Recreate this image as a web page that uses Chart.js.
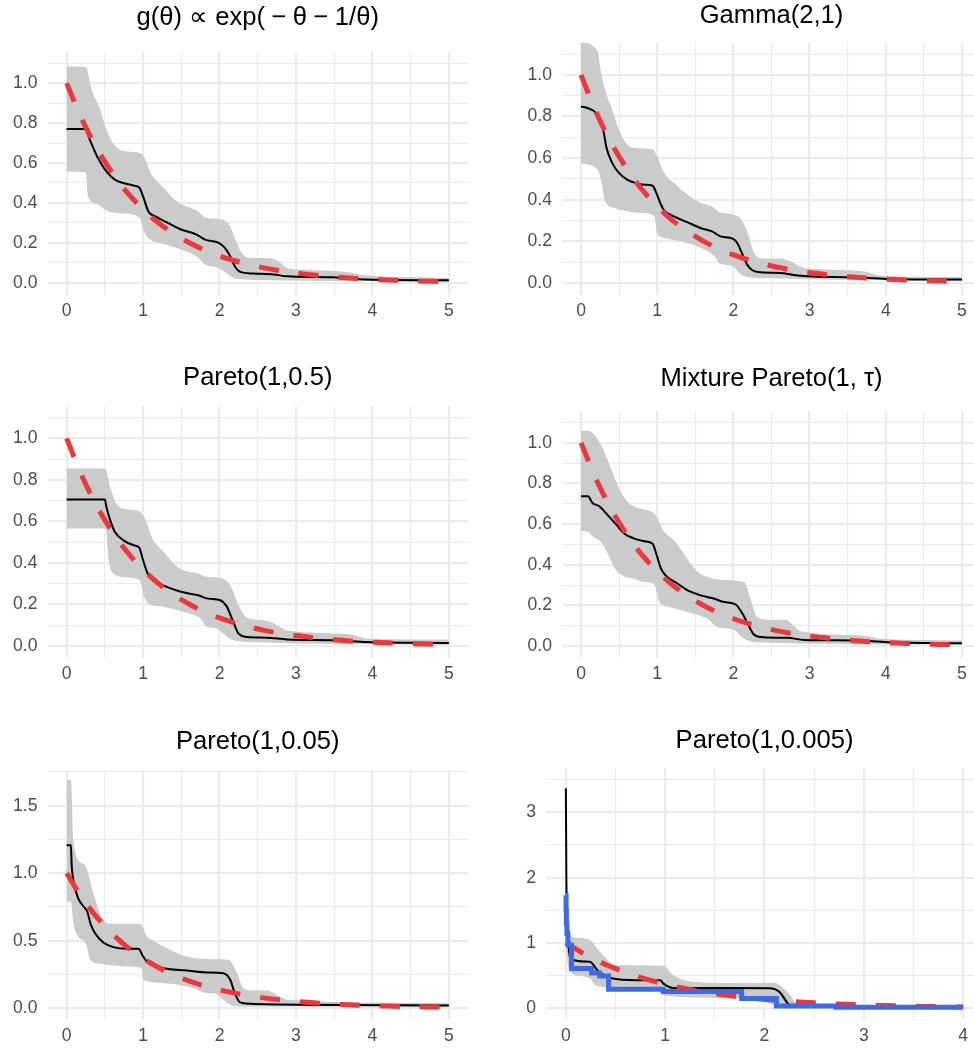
<!DOCTYPE html>
<html>
<head>
<meta charset="utf-8">
<title>Estimated curves, six priors</title>
<script src="https://cdn.jsdelivr.net/npm/chart.js@4.4.1/dist/chart.umd.min.js"></script>
<style>
    html, body { margin: 0; padding: 0; background: #fff; overflow: hidden; }
    #wrap { position: relative; width: 974px; height: 1048px; overflow: hidden; }
    #wrap canvas { position: absolute; }
</style>
</head>
<body>
<div id="wrap"></div>
<script>

// ---- data: [theta, value] pairs ----

// red dashed reference curve (same in every panel)
const trueCurve = [[0,1],[0.2,0.819],[0.4,0.670],[0.6,0.549],[0.8,0.449],[1,0.368],[1.2,0.301],[1.4,0.247],
    [1.6,0.202],[1.8,0.165],[2,0.135],[2.2,0.111],[2.4,0.091],[2.6,0.074],[2.8,0.061],[3,0.050],[3.2,0.041],
    [3.4,0.033],[3.6,0.027],[3.8,0.022],[4,0.018],[4.2,0.015],[4.4,0.012],[4.6,0.010],[4.8,0.008],[5,0.007]];

// g(theta) ~ exp(-theta - 1/theta)
const p1Mean = [[0,0.77],[0.24,0.77],[0.3,0.72],[0.41,0.625],[0.52,0.558],[0.63,0.517],[0.74,0.5],[0.87,0.488],
    [0.95,0.478],[1.0,0.433],[1.07,0.358],[1.16,0.333],[1.31,0.303],[1.48,0.27],[1.7,0.242],[1.81,0.217],[1.99,0.2],
    [2.07,0.175],[2.14,0.133],[2.2,0.083],[2.27,0.055],[2.44,0.047],[2.71,0.042],[2.88,0.033],[3.49,0.028],[3.93,0.017],[5,0.013]];
const p1Upper = [[0,1.083],[0.25,1.08],[0.33,0.967],[0.44,0.867],[0.52,0.767],[0.63,0.688],[0.79,0.658],[0.96,0.65],
    [1.03,0.617],[1.11,0.545],[1.27,0.475],[1.44,0.408],[1.7,0.362],[1.83,0.325],[2.03,0.317],[2.14,0.283],[2.2,0.225],
    [2.29,0.15],[2.44,0.125],[2.62,0.125],[2.75,0.113],[2.88,0.075],[3.05,0.067],[3.67,0.055],[3.93,0.037],[5,0.025]];
const p1Lower = [[0,0.558],[0.25,0.553],[0.28,0.433],[0.39,0.397],[0.52,0.363],[0.74,0.347],[0.96,0.325],[1.0,0.267],
    [1.07,0.225],[1.22,0.2],[1.44,0.175],[1.7,0.133],[1.81,0.092],[1.96,0.078],[2.09,0.05],[2.18,0.025],[2.36,0.017],
    [2.84,0.012],[5,0.005]];

// Gamma(2,1)
const p2Mean = [[0,0.848],[0.09,0.84],[0.2,0.816],[0.26,0.768],[0.3,0.72],[0.33,0.656],[0.41,0.576],[0.5,0.528],
    [0.61,0.496],[0.72,0.48],[0.83,0.472],[0.94,0.467],[0.98,0.44],[1.05,0.376],[1.09,0.349],[1.22,0.32],[1.4,0.291],
    [1.57,0.264],[1.72,0.248],[1.83,0.224],[1.99,0.213],[2.05,0.192],[2.12,0.136],[2.18,0.088],[2.25,0.061],[2.36,0.051],
    [2.62,0.048],[2.79,0.038],[2.97,0.032],[3.58,0.027],[4.02,0.019],[5,0.016]];
const p2Upper = [[0,1.16],[0.22,1.112],[0.26,1.016],[0.33,0.912],[0.41,0.832],[0.5,0.736],[0.61,0.664],[0.74,0.648],
    [0.94,0.643],[1.0,0.608],[1.09,0.528],[1.22,0.48],[1.4,0.424],[1.57,0.384],[1.72,0.368],[1.83,0.339],[2.01,0.328],
    [2.12,0.296],[2.21,0.216],[2.27,0.144],[2.4,0.118],[2.62,0.118],[2.75,0.104],[2.88,0.077],[3.06,0.067],[3.71,0.056],
    [3.93,0.035],[5,0.029]];
const p2Lower = [[0,0.576],[0.22,0.544],[0.27,0.48],[0.31,0.4],[0.44,0.36],[0.61,0.344],[0.79,0.336],[0.96,0.323],
    [1.0,0.24],[1.09,0.216],[1.31,0.2],[1.57,0.168],[1.75,0.128],[1.81,0.096],[1.99,0.08],[2.1,0.04],[2.18,0.029],
    [2.49,0.022],[5,0.008]];

// Pareto(1,0.5)
const p3Mean = [[0,0.706],[0.5,0.706],[0.52,0.67],[0.57,0.606],[0.63,0.55],[0.74,0.51],[0.87,0.486],[0.95,0.474],
    [1.0,0.413],[1.06,0.349],[1.13,0.317],[1.31,0.285],[1.51,0.26],[1.72,0.244],[1.85,0.228],[2.01,0.22],[2.09,0.193],
    [2.18,0.116],[2.25,0.059],[2.36,0.043],[2.62,0.04],[2.88,0.031],[3.49,0.027],[3.93,0.019],[5,0.014]];
const p3Upper = [[0,0.855],[0.5,0.855],[0.57,0.767],[0.65,0.686],[0.79,0.658],[0.96,0.646],[1.05,0.59],[1.11,0.526],
    [1.27,0.453],[1.48,0.373],[1.72,0.349],[1.83,0.333],[2.04,0.325],[2.15,0.285],[2.25,0.196],[2.36,0.137],[2.62,0.121],
    [2.75,0.1],[2.88,0.076],[3.71,0.056],[3.93,0.035],[5,0.031]];
const p3Lower = [[0,0.566],[0.51,0.566],[0.55,0.413],[0.61,0.349],[0.79,0.33],[0.96,0.317],[1.0,0.252],[1.07,0.204],
    [1.27,0.188],[1.53,0.164],[1.75,0.132],[1.83,0.092],[1.96,0.084],[2.05,0.059],[2.18,0.027],[2.36,0.019],[5,0.006]];

// Mixture Pareto(1, tau)
const p4Mean = [[0,0.737],[0.09,0.737],[0.15,0.704],[0.24,0.688],[0.35,0.644],[0.46,0.599],[0.57,0.553],[0.7,0.529],
    [0.83,0.516],[0.94,0.504],[0.98,0.463],[1.05,0.381],[1.11,0.348],[1.27,0.307],[1.4,0.274],[1.57,0.25],[1.75,0.233],
    [1.88,0.217],[2.03,0.205],[2.12,0.159],[2.21,0.094],[2.27,0.057],[2.4,0.044],[2.71,0.041],[2.93,0.031],[3.58,0.028],
    [4.02,0.02],[5,0.015]];
const p4Upper = [[0,1.059],[0.09,1.059],[0.24,1.005],[0.35,0.915],[0.48,0.791],[0.59,0.718],[0.7,0.685],[0.87,0.668],
    [0.98,0.644],[1.09,0.562],[1.22,0.521],[1.35,0.455],[1.51,0.373],[1.66,0.34],[1.83,0.327],[2.14,0.315],[2.23,0.225],
    [2.31,0.143],[2.45,0.13],[2.69,0.13],[2.79,0.102],[2.88,0.074],[3.71,0.053],[3.93,0.036],[5,0.028]];
const p4Lower = [[0,0.566],[0.09,0.562],[0.15,0.54],[0.26,0.512],[0.35,0.455],[0.46,0.373],[0.57,0.343],[0.7,0.332],
    [0.83,0.315],[0.96,0.304],[1.03,0.217],[1.14,0.195],[1.4,0.167],[1.66,0.135],[1.79,0.094],[2.01,0.08],[2.14,0.036],
    [2.27,0.02],[5,0.008]];

// Pareto(1,0.05)
const p5Mean = [[0,1.207],[0.057,1.207],[0.065,1.074],[0.096,0.926],[0.15,0.815],[0.24,0.741],[0.27,0.716],[0.31,0.63],
    [0.37,0.556],[0.48,0.486],[0.61,0.452],[0.79,0.44],[0.94,0.44],[1.0,0.383],[1.07,0.333],[1.27,0.296],[1.57,0.279],
    [1.83,0.264],[2.05,0.259],[2.14,0.21],[2.2,0.111],[2.27,0.042],[2.4,0.032],[3.05,0.025],[5,0.02]];
const p5Upper = [[0,1.691],[0.057,1.69],[0.087,1.247],[0.2,1.074],[0.25,1.054],[0.35,0.852],[0.48,0.654],[0.61,0.625],
    [0.96,0.625],[1.05,0.531],[1.13,0.501],[1.35,0.432],[1.53,0.388],[1.92,0.363],[2.12,0.358],[2.23,0.259],[2.31,0.148],
    [2.44,0.131],[2.62,0.131],[2.75,0.099],[2.88,0.062],[5,0.037]];
const p5Lower = [[0,0.79],[0.057,0.79],[0.087,0.63],[0.15,0.531],[0.25,0.481],[0.31,0.358],[0.44,0.328],[0.79,0.309],
    [0.98,0.296],[1.0,0.222],[1.07,0.198],[1.4,0.178],[1.66,0.148],[1.83,0.111],[1.96,0.106],[2.05,0.062],[2.14,0.025],
    [2.27,0.012],[5,0.007]];

// Pareto(1,0.005)
const p6Mean = [[0,3.37],[0.005,2.0],[0.01,1.35],[0.027,0.944],[0.047,0.75],[0.24,0.71],[0.33,0.56],[0.46,0.46],
    [0.71,0.43],[0.95,0.43],[0.98,0.38],[1.08,0.31],[2.05,0.306],[2.15,0.25],[2.24,0.066],[2.3,0.03],[2.57,0.024],[4,0.02]];
const p6Upper = [[0,1.2],[0.057,1.1],[0.24,1.05],[0.34,0.87],[0.51,0.66],[0.98,0.65],[1.08,0.51],[1.25,0.41],
    [1.85,0.385],[2.09,0.39],[2.26,0.2],[2.32,0.066],[2.4,0.04],[4,0.035]];
const p6Lower = [[0,0.9],[0.03,0.6],[0.057,0.536],[0.24,0.46],[0.31,0.34],[0.95,0.254],[0.98,0.2],[1.72,0.153],
    [2.0,0.11],[2.15,0.02],[4,0.01]];
// blue step estimate (value holds from its theta to the next one)
const p6Step = [[0,1.73],[0.002,1.5],[0.005,1.3],[0.01,1.15],[0.02,1.0],[0.023,0.97],[0.057,0.61],[0.26,0.54],
    [0.34,0.495],[0.43,0.29],[0.98,0.254],[1.77,0.15],[2.12,0.035],[2.72,0.015],[4,0.015]];

// tick values and labels
const xMajor = [0, 1, 2, 3, 4, 5];
const xMinor = [0.5, 1.5, 2.5, 3.5, 4.5];
const xLabels = ['0', '1', '2', '3', '4', '5'];
const xMajor6 = [0, 1, 2, 3, 4];
const xMinor6 = [0.5, 1.5, 2.5, 3.5];
const xLabels6 = ['0', '1', '2', '3', '4'];
const yMajorA = [0, 0.2, 0.4, 0.6, 0.8, 1.0];
const yMinorA = [0.1, 0.3, 0.5, 0.7, 0.9, 1.1];
const yLabelsA = ['0.0', '0.2', '0.4', '0.6', '0.8', '1.0'];
const yMajorB = [0, 0.5, 1.0, 1.5];
const yMinorB = [0.25, 0.75, 1.25, 1.75];
const yLabelsB = ['0.0', '0.5', '1.0', '1.5'];
const yMajorC = [0, 1, 2, 3];
const yMinorC = [0.5, 1.5, 2.5, 3.5];
const yLabelsC = ['0', '1', '2', '3'];


// ---- styling ----
const FONT = "'Liberation Sans', Arial, Helvetica, sans-serif";
const TICK_SIZE = 17.6;
const TITLE_SIZE = 25.6;
const GRID = '#EBEBEB';
const RIBBON = '#CBCBCB';
const RED = '#E83A3D';
const BLUE = '#4169E1';

// box = canvas [left, top, width, height]; area = plot panel [left, top, right, bottom]
const panels = [
    { title: 'g(θ) ∝ exp(\u2005−\u2005θ\u2005−\u20051/θ)', box: [0, 0, 468, 330], area: [47.5, 52, 468, 294.5], titleY: 18,
      x: [-0.25, 5.25], y: [-0.058, 1.156], xt: [xMajor, xMinor, xLabels], yt: [yMajorA, yMinorA, yLabelsA],
      mean: p1Mean, upper: p1Upper, lower: p1Lower },
    { title: 'Gamma(2,1)', box: [487, 0, 494, 330], area: [562, 42.5, 981, 295], titleY: 16,
      x: [-0.25, 5.25], y: [-0.058, 1.156], xt: [xMajor, xMinor, xLabels], yt: [yMajorA, yMinorA, yLabelsA],
      mean: p2Mean, upper: p2Upper, lower: p2Lower },
    { title: 'Pareto(1,0.5)', box: [0, 349, 468, 343], area: [47.5, 406, 468, 658], titleY: 377.8,
      x: [-0.25, 5.25], y: [-0.058, 1.156], xt: [xMajor, xMinor, xLabels], yt: [yMajorA, yMinorA, yLabelsA],
      mean: p3Mean, upper: p3Upper, lower: p3Lower },
    { title: 'Mixture Pareto(1, τ)', box: [487, 349, 494, 343], area: [562, 411, 981, 658], titleY: 379.4,
      x: [-0.25, 5.25], y: [-0.058, 1.156], xt: [xMajor, xMinor, xLabels], yt: [yMajorA, yMinorA, yLabelsA],
      mean: p4Mean, upper: p4Upper, lower: p4Lower },
    { title: 'Pareto(1,0.05)', box: [0, 700, 468, 348], area: [47.5, 770, 468, 1019.3], titleY: 741.8,
      x: [-0.25, 5.25], y: [-0.083, 1.765], xt: [xMajor, xMinor, xLabels], yt: [yMajorB, yMinorB, yLabelsB],
      mean: p5Mean, upper: p5Upper, lower: p5Lower },
    { title: 'Pareto(1,0.005)', box: [487, 700, 496, 348], area: [546, 768.3, 983, 1019.3], titleY: 741.1,
      x: [-0.2, 4.2], y: [-0.17, 3.675], xt: [xMajor6, xMinor6, xLabels6], yt: [yMajorC, yMinorC, yLabelsC],
      mean: p6Mean, upper: p6Upper, lower: p6Lower, step: p6Step }
];

const pts = arr => arr.map(([x, y]) => ({ x: x, y: y }));

function makeTicks(major, minor, labels) {
    let list = major.map((v, i) => ({ value: v, isMajor: true, text: labels[i] }));
    minor.forEach(v => list.push({ value: v, isMajor: false, text: '' }));
    return list.sort((a, b) => a.value - b.value);
}

function axis(range, tickDef, fitSize, isX) {
    return {
        type: 'linear',
        min: range[0],
        max: range[1],
        afterBuildTicks: (scale) => {
            scale.ticks = makeTicks(tickDef[0], tickDef[1], tickDef[2]);
        },
        afterFit: (scale) => {
            if (isX) scale.height = fitSize;
            else scale.width = fitSize;
        },
        ticks: {
            autoSkip: false,
            maxRotation: 0,
            padding: isX ? 6 : 10,
            color: '#4D4D4D',
            font: { family: FONT, size: TICK_SIZE },
            callback: function (value, index, ticks) {
                return ticks[index].text;
            }
        },
        grid: {
            color: GRID,
            drawTicks: false,
            lineWidth: (c) => (c.tick && c.tick.isMajor ? 2.2 : 1.1)
        },
        border: { display: false }
    };
}

const wrap = document.getElementById('wrap');

panels.forEach((p) => {
    const [bx, by, bw, bh] = p.box;
    const [al, at, ar, ab] = p.area;
    const canvas = document.createElement('canvas');
    canvas.width = bw;
    canvas.height = bh;
    canvas.style.left = bx + 'px';
    canvas.style.top = by + 'px';
    canvas.style.width = bw + 'px';
    canvas.style.height = bh + 'px';
    wrap.appendChild(canvas);

    const lineH = TITLE_SIZE * 1.2;
    const padTop = p.titleY - by - lineH / 2;
    const padBottom = at - by - padTop - lineH;

    const prior = p.step ? trueCurve.filter(d => d[0] <= 4) : trueCurve;

    const datasets = [
        { label: 'lower', data: pts(p.lower), borderWidth: 0, pointRadius: 0, fill: false,
          cubicInterpolationMode: 'monotone', order: 4 },
        { label: 'upper', data: pts(p.upper), borderWidth: 0, pointRadius: 0, fill: '-1',
          backgroundColor: RIBBON, cubicInterpolationMode: 'monotone', order: 3 },
        { label: 'mean', data: pts(p.mean), borderColor: '#000', borderWidth: 2, pointRadius: 0, fill: false,
          cubicInterpolationMode: 'monotone', order: 2 },
        { label: 'truth', data: pts(prior), borderColor: RED, borderWidth: 5, borderDash: [20, 20],
          borderCapStyle: 'butt', pointRadius: 0, fill: false, tension: 0.3, order: 1 }
    ];
    if (p.step) {
        datasets.push({ label: 'step', data: pts(p.step), borderColor: BLUE, borderWidth: 5, pointRadius: 0,
            fill: false, stepped: 'before', order: 0 });
    }

    new Chart(canvas, {
        type: 'line',
        data: { datasets: datasets },
        options: {
            responsive: false,
            animation: false,
            devicePixelRatio: 1,
            layout: { padding: { left: 0, right: bx + bw - ar, top: 0, bottom: 0 } },
            scales: {
                x: axis(p.x, p.xt, by + bh - ab, true),
                y: axis(p.y, p.yt, al - bx, false)
            },
            plugins: {
                legend: { display: false },
                tooltip: { enabled: false },
                title: {
                    display: true,
                    text: p.title,
                    fullSize: false,
                    color: '#000',
                    font: { family: FONT, size: TITLE_SIZE, weight: 'normal', lineHeight: 1.2 },
                    padding: { top: padTop, bottom: padBottom }
                }
            }
        }
    });
});
</script>
</body>
</html>
